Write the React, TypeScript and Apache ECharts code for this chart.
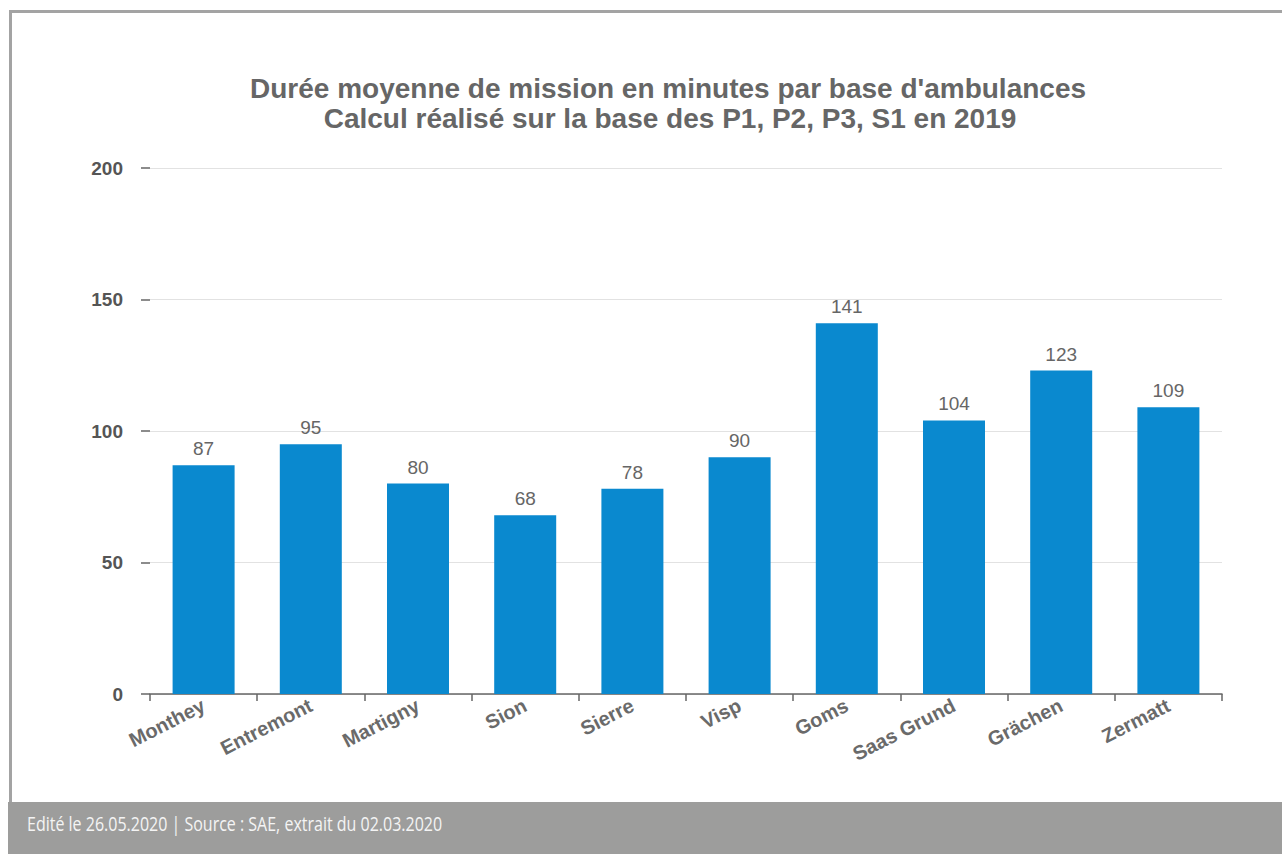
import React, { useEffect, useRef } from "react";
import * as echarts from "echarts";

const categories = ["Monthey", "Entremont", "Martigny", "Sion", "Sierre", "Visp", "Goms", "Saas Grund", "Grächen", "Zermatt"];
const values = [87, 95, 80, 68, 78, 90, 141, 104, 123, 109];
const yMin = 0;
const yMax = 200;
const yInterval = 50;
const titleLine1 = "Durée moyenne de mission en minutes par base d'ambulances";
const titleLine2 = "Calcul réalisé sur la base des P1, P2, P3, S1 en 2019";
const footerText = "Edité le 26.05.2020 | Source : SAE, extrait du 02.03.2020";

export default function App() {
  const ref = useRef<HTMLDivElement>(null);
  useEffect(() => {
    if (!ref.current) return;
    const chart = echarts.init(ref.current, undefined, { renderer: "svg" });
    const font = "'Liberation Sans', Arial, sans-serif";
    chart.setOption({
      animation: false,
      backgroundColor: "#ffffff",
      grid: { left: 150, right: 60, top: 168, bottom: 160, containLabel: false },
      xAxis: {
        type: "category",
        data: categories,
        axisLine: { show: true, lineStyle: { color: "#666666", width: 1.5 } },
        axisTick: { show: true, length: 7, lineStyle: { color: "#666666", width: 1.5 } },
        axisLabel: {
          interval: 0,
          rotate: 27,
          color: "#6a6a6a",
          fontWeight: "bold",
          fontSize: 20,
          fontFamily: font,
          margin: 10,
        },
      },
      yAxis: {
        type: "value",
        min: yMin,
        max: yMax,
        interval: yInterval,
        axisLine: { show: false },
        axisTick: { show: true, length: 9, lineStyle: { color: "#666666", width: 1.5 } },
        axisLabel: { color: "#555555", fontWeight: "bold", fontSize: 19, fontFamily: font, margin: 27 },
        splitLine: { show: true, lineStyle: { color: "#e2e2e2", width: 1 } },
      },
      series: [
        {
          type: "bar",
          data: values,
          barWidth: 62,
          itemStyle: { color: "#0a89cf" },
          label: {
            show: true,
            position: "top",
            distance: 7,
            color: "#666666",
            fontSize: 19,
            fontFamily: font,
          },
        },
      ],
      graphic: [
        {
          type: "rect",
          shape: { x: 10.5, y: 11.5, width: 1290, height: 800 },
          style: { fill: "none", stroke: "#a3a3a3", lineWidth: 3 },
          silent: true,
        },
        {
          type: "rect",
          shape: { x: 8, y: 802, width: 1274, height: 52 },
          style: { fill: "#9d9d9c" },
          silent: true,
        },
        {
          type: "text",
          x: 27,
          y: 823,
          scaleX: 0.8,
          style: {
            text: footerText,
            fill: "#f4f4f4",
            fontSize: 20,
            fontFamily: "'Open Sans', sans-serif",
            verticalAlign: "middle",
            textAlign: "left",
          },
        },
        {
          type: "text",
          x: 668,
          y: 88,
          style: {
            text: titleLine1,
            fill: "#666666",
            fontSize: 28,
            fontWeight: "bold",
            fontFamily: font,
            textAlign: "center",
            verticalAlign: "middle",
          },
        },
        {
          type: "text",
          x: 670,
          y: 118,
          style: {
            text: titleLine2,
            fill: "#666666",
            fontSize: 28,
            fontWeight: "bold",
            fontFamily: font,
            textAlign: "center",
            verticalAlign: "middle",
          },
        },
      ],
    });
    return () => chart.dispose();
  }, []);
  return (
    <div
      ref={ref}
      style={{ position: "fixed", left: 0, top: 0, width: 1282, height: 854, background: "#ffffff" }}
    />
  );
}
